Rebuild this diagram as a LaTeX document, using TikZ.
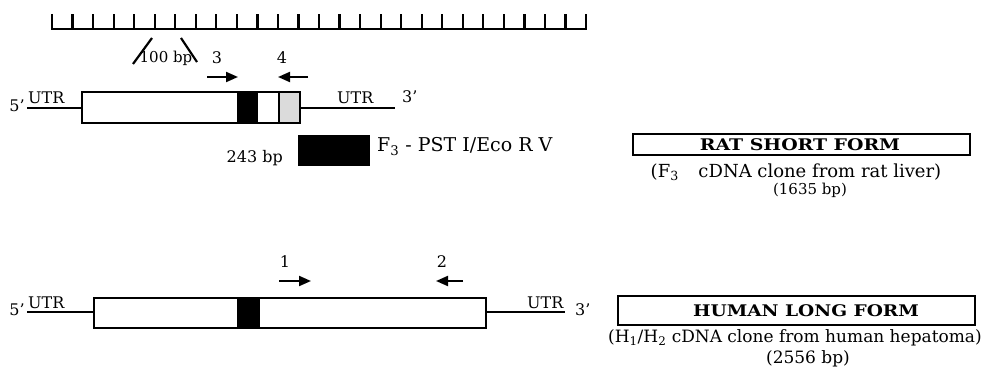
\documentclass[tikz,border=0pt]{standalone}
\usepackage{fontspec}
\setmainfont{DejaVu Serif}
\usetikzlibrary{arrows.meta}
\begin{document}
\begin{tikzpicture}[x=1pt,y=-1pt,
  lbl/.style={inner sep=0pt,font=\fontsize{16}{18}\selectfont},
  small/.style={inner sep=0pt,font=\fontsize{15}{17}\selectfont},
  subt/.style={inner sep=0pt,font=\fontsize{17}{19}\selectfont},
  boldlbl/.style={inner sep=0pt,font=\fontsize{16}{18}\selectfont\bfseries},
  ln/.style={line width=1.8pt},
  rul/.style={line width=2.2pt},
  gene/.style={draw,line width=2.2pt,inner sep=0pt,anchor=north west},
  formbox/.style={draw,line width=1.8pt,inner sep=0pt},
  primer/.style={line width=2pt,-{Triangle[length=12pt,width=10pt]}},
]
\useasboundingbox (0,0) rectangle (995,374);
% ruler
\draw[rul] (52,14) -- (52,29) -- (586,29) -- (586,14);
\foreach \k in {1,...,25} \draw[rul] (52+20.54*\k,29) -- ++(0,-15);
% 100 bp scale mark
\coordinate (s1a) at (133,64); \coordinate (s1b) at (152,38);
\coordinate (s2a) at (181,38); \coordinate (s2b) at (197,62);
\draw[rul] (s1a) -- (s1b);
\draw[rul] (s2a) -- (s2b);
\node[small] (bp100) at (166,58) {100 bp};
% rat gene
\fill (237,91) rectangle (258,122);
\fill[gray!28] (279,91) rectangle (299,122);
\draw[line width=1.2pt] (279,91) -- (279,122);
\node[gene,minimum width=218pt,minimum height=31pt] (ratbox) at (81,91) {};
\coordinate (r5) at (27,108); \coordinate (r3) at (395,108);
\draw[ln] (r5) -- (r5 -| ratbox.west);
\draw[ln] (r3 -| ratbox.east) -- (r3);
\node[lbl] (r5l) at (17,106) {5’};
\node[lbl,anchor=base west] (rutr1) at (28,104) {UTR};
\node[lbl,anchor=base west] (rutr2) at (337,104) {UTR};
\node[lbl,anchor=base west] (r3l) at (402,103) {3’};
% rat primers
\node[lbl] (p3) at (217,58) {3};
\node[lbl] (p4) at (282,58) {4};
\coordinate (p3a) at (207,77); \coordinate (p3b) at (238,77);
\coordinate (p4a) at (308,77); \coordinate (p4b) at (278,77);
\draw[primer] (p3a) -- (p3b);
\draw[primer] (p4a) -- (p4b);
% F3 fragment
\node[fill=black,inner sep=0pt,minimum width=72pt,minimum height=31pt,anchor=north west] (f3bar) at (298,135) {};
\node[lbl,anchor=east] (bp243) at (283,158) {243 bp};
\node[lbl,anchor=west,font=\fontsize{19}{21}\selectfont] (f3lbl) at (377,147) {F\textsubscript{3} - PST I/Eco R V};
% human gene
\fill (237,297) rectangle (260,327);
\node[gene,minimum width=392pt,minimum height=30pt] (humbox) at (93,297) {};
\coordinate (h5) at (27,312); \coordinate (h3) at (565,312);
\draw[ln] (h5) -- (h5 -| humbox.west);
\draw[ln] (h3 -| humbox.east) -- (h3);
\node[lbl] (h5l) at (17,310) {5’};
\node[lbl,anchor=base west] (hutr1) at (28,308) {UTR};
\node[lbl,anchor=base west] (hutr2) at (527,308) {UTR};
\node[lbl,anchor=base west] (h3l) at (575,315) {3’};
% human primers
\node[lbl] (p1) at (285,262) {1};
\node[lbl] (p2) at (442,262) {2};
\coordinate (p1a) at (279,281); \coordinate (p1b) at (311,281);
\coordinate (p2a) at (463,281); \coordinate (p2b) at (436,281);
\draw[primer] (p1a) -- (p1b);
\draw[primer] (p2a) -- (p2b);
% form labels
\node[formbox,minimum width=337pt,minimum height=21pt] (ratform) at (801.5,144.5) {};
\node[boldlbl] (ratformt) at (800,145) {\scalebox{1.18}[1]{RAT SHORT FORM}};
\node[subt,font=\fontsize{18}{20}\selectfont] (ratsub) at (796,172) {(F\textsubscript{3}\hspace{14pt} cDNA clone from rat liver)};
\node[small] (ratbp) at (810,190) {(1635 bp)};
\node[formbox,minimum width=357pt,minimum height=29pt] (humform) at (796.5,310.5) {};
\node[boldlbl] (humformt) at (806,311) {\scalebox{1.16}[1]{HUMAN LONG FORM}};
\node[subt,anchor=west] (humsub) at (608,338) {(H\textsubscript{1}/H\textsubscript{2} cDNA clone from human hepatoma)};
\node[subt] (humbp) at (808,359) {(2556 bp)};
\end{tikzpicture}
\end{document}
